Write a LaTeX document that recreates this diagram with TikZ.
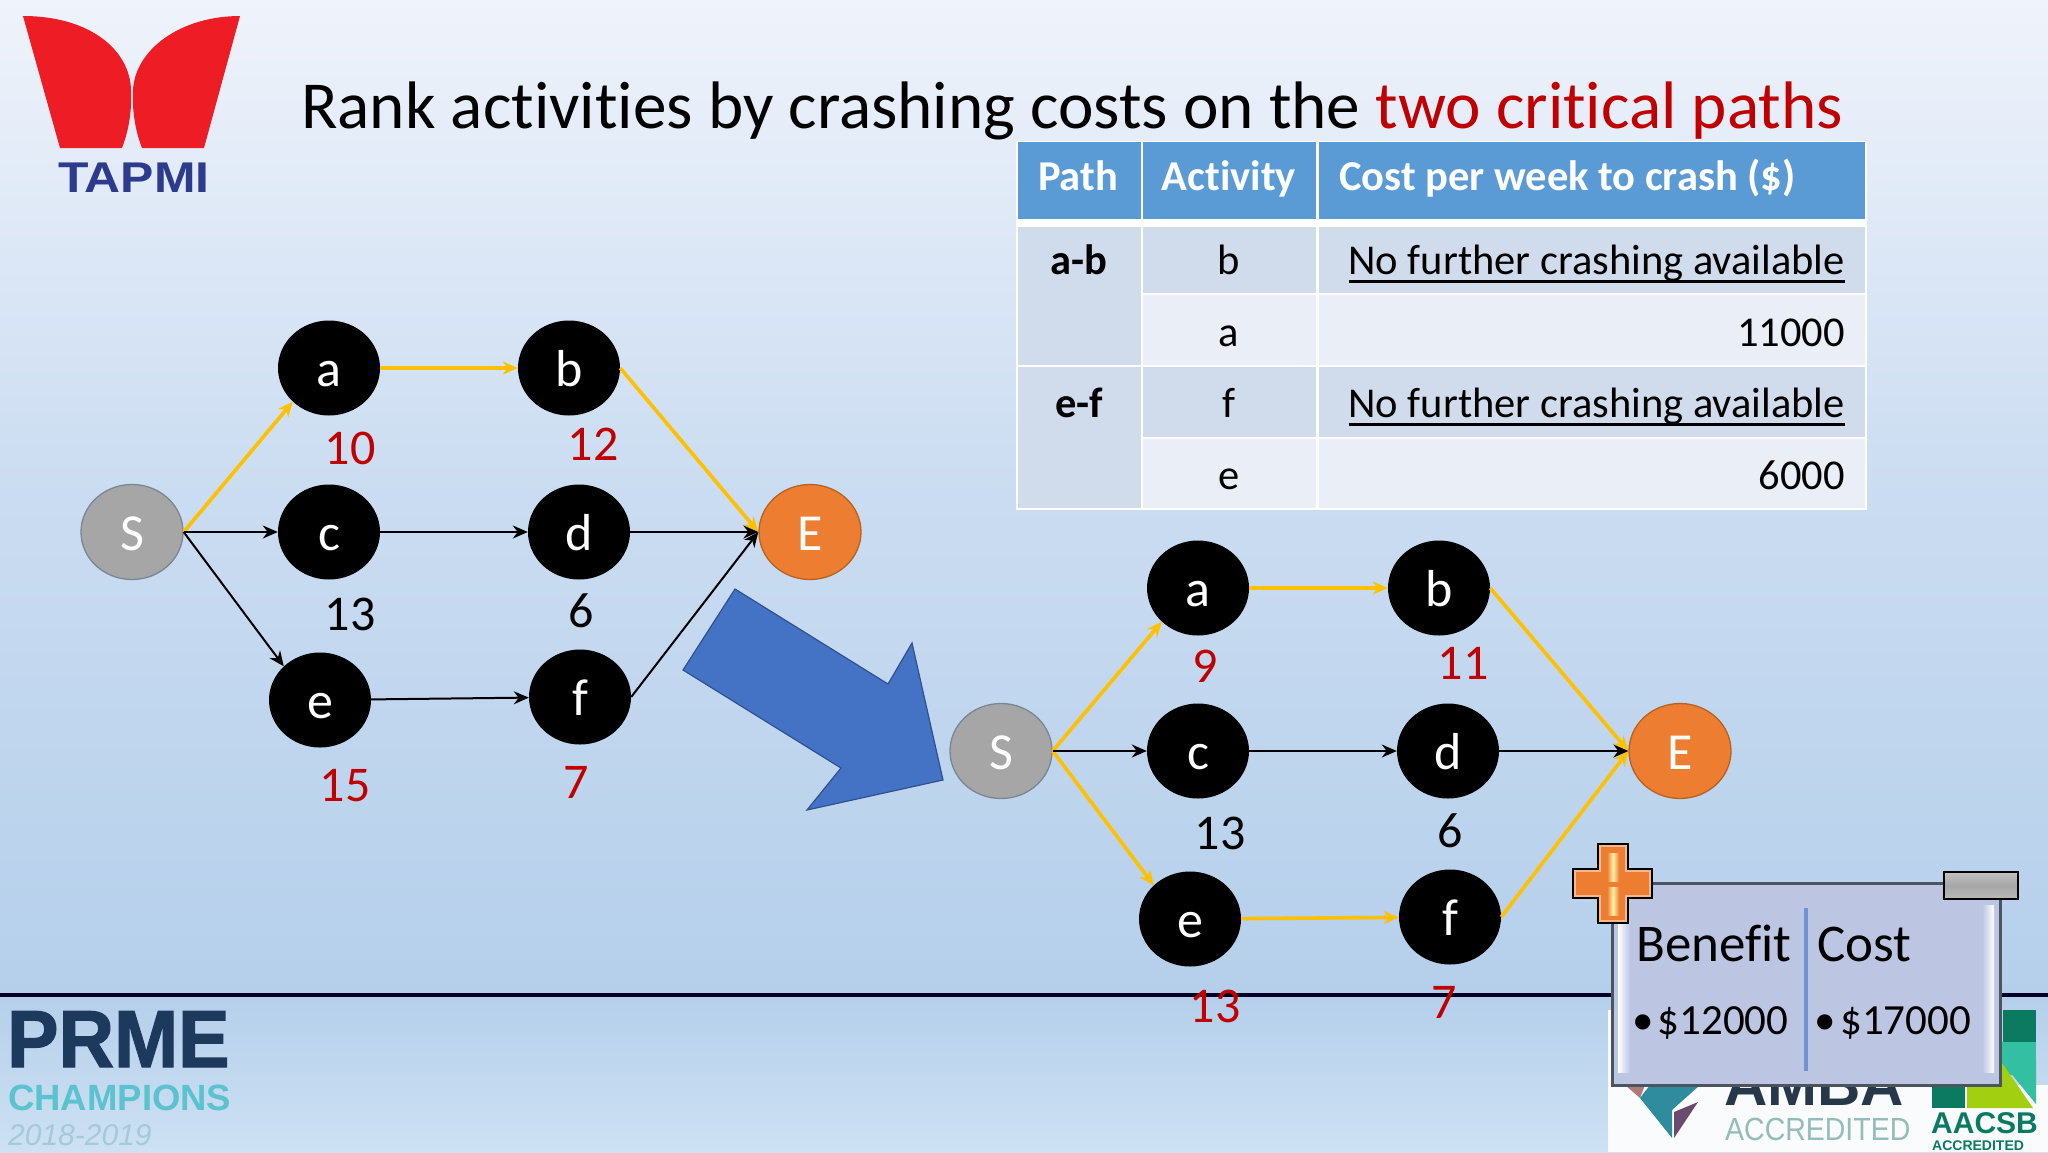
\documentclass[tikz,border=0pt]{standalone}
\usepackage{fontspec}
\setmainfont[Ligatures=CommonOff]{Carlito}
\newfontfamily\logofont{Liberation Sans}
\newfontfamily\tapmifont[FakeStretch=1.16]{Liberation Sans}
\newfontfamily\primefont[FakeStretch=0.95,FakeBold=1.5]{Liberation Sans}
\newfontfamily\ambafont[FakeStretch=0.89]{Liberation Sans}
\usetikzlibrary{shapes.geometric,arrows.meta}
\definecolor{critred}{HTML}{C00000}
\definecolor{critline}{HTML}{FFC000}
\definecolor{headblue}{HTML}{5B9BD5}
\definecolor{bandblue}{HTML}{D0DCEC}
\definecolor{bandlight}{HTML}{E9EEF7}
\definecolor{panel}{HTML}{BCC6E3}
\definecolor{arrowblue}{HTML}{4472C4}
\definecolor{arrowedge}{HTML}{2F528F}
\definecolor{bgtop}{HTML}{EFF3FB}
\definecolor{bghalf}{HTML}{CADCF1}
\definecolor{bgmid}{HTML}{B5CFEB}
\definecolor{bgbot}{HTML}{CDE1F3}
\definecolor{grayfill}{HTML}{A6A6A6}
\definecolor{grayline}{HTML}{7A8694}
\definecolor{orangefill}{HTML}{ED7D31}
\definecolor{orangeline}{HTML}{B8621F}
\definecolor{orangelight}{HTML}{F5B78C}
\definecolor{palegold}{HTML}{FFF2A8}
\definecolor{logored}{HTML}{EE1C25}
\definecolor{logoblue}{HTML}{2E3A8C}
\definecolor{primenavy}{HTML}{1D3A5C}
\definecolor{primeteal}{HTML}{5CC2CE}
\definecolor{primegray}{HTML}{A4CAD8}
\definecolor{ambadark}{HTML}{26384A}
\definecolor{ambateal}{HTML}{2F8C9E}
\definecolor{ambaplum}{HTML}{6A4A6E}
\definecolor{ambasalmon}{HTML}{B07A78}
\definecolor{ambalight}{HTML}{93BDB6}
\definecolor{aacsbdark}{HTML}{0B7A60}
\definecolor{aacsblime}{HTML}{A2CF10}
\definecolor{aacsbteal}{HTML}{32BFA2}
\definecolor{boxline}{HTML}{4A5560}
\definecolor{divider}{HTML}{6F93D0}
\newcommand{\fsz}[1]{\fontsize{#1}{#1}\selectfont}
\newcommand{\thickul}[1]{\setbox0\hbox{#1}\rlap{\rule[-8pt]{\wd0}{2.5pt}}\box0}
\tikzset{
  x=1pt,y=-1pt,
  netnode/.style={ellipse,minimum width=102,minimum height=95,inner sep=0,font=\fsz{52},text height=37,text depth=0},
  activity/.style={netnode,fill=black,text=white},
  startnode/.style={netnode,fill=grayfill,draw=grayline,line width=1.3,text=white},
  endnode/.style={netnode,fill=orangefill,draw=orangeline,line width=1.3,text=white},
  plain/.style={-{Stealth[length=15,width=13]},black,line width=2},
  critical/.style={-{Stealth[length=15,width=13]},critline,line width=3.6},
  duration/.style={font=\fsz{50},inner sep=0},
  slack/.style={duration,text=critred},
  cellhead/.style={anchor=base,text=white,font=\bfseries\fsz{42.5},inner sep=0},
  cellbody/.style={anchor=base,font=\fsz{42.5},inner sep=0},
  cellbold/.style={anchor=base,font=\bfseries\fsz{42.5},inner sep=0},
  cellright/.style={anchor=base east,font=\fsz{42.5},inner sep=0},
  boxhead/.style={anchor=base west,font=\fsz{53},inner sep=0},
  boxitem/.style={anchor=base west,font=\fsz{43},inner sep=0},
  logotext/.style={anchor=base west,inner sep=0},
}
\begin{document}
\begin{tikzpicture}
\useasboundingbox (0,0) rectangle (2048,1152);
% background
\fill[top color=bgtop,bottom color=bgmid,middle color=bghalf] (0,0) rectangle (2048,995);
\fill[top color=bgmid,bottom color=bgbot] (0,995) rectangle (2048,1152);
% rule
\draw[black!85!blue,line width=4] (0,995) -- (2048,995);
% TAPMI logo
\fill[logored] (23,16) .. controls (90,16) and (130,50) .. (131,90) .. controls (132,110) and (129,130) .. (122,148) -- (60,148) -- cycle;
\fill[logored] (240,16) .. controls (180,16) and (135,50) .. (133,90) .. controls (132,110) and (135,130) .. (142,148) -- (204,148) -- cycle;
\node[logotext,font=\tapmifont\bfseries\fsz{43},text=logoblue] (tapmi) at (58,192) {TAPMI};
% PRME logo
\node[logotext,font=\primefont\bfseries\fsz{81},text=primenavy] (prme) at (7,1067) {PRME};
\node[logotext,font=\logofont\bfseries\fsz{36.5},text=primeteal] (champ) at (8,1110) {CHAMPIONS};
\node[logotext,font=\logofont\itshape\fsz{30},text=primegray] (years) at (8,1145) {2018-2019};
% accreditation logos
\fill[white!92!bgmid] (1608,1010) rectangle (1925,1152);
\fill[white!92!bgmid] (1925,1085) rectangle (2048,1152);
\fill[ambasalmon] (1625,1085) -- (1645,1085) -- (1640,1098) -- cycle;
\fill[ambateal] (1640,1098) -- (1650,1085) -- (1700,1085) -- (1672,1110) -- (1672,1138) -- cycle;
\fill[ambaplum] (1674,1112) -- (1698,1102) -- (1674,1138) -- cycle;
\node[logotext,font=\logofont\bfseries\fsz{60},text=ambadark] (amba) at (1724,1105) {AMBA};
\node[logotext,font=\ambafont\fsz{32},text=ambalight] (ambaacc) at (1725,1140) {ACCREDITED};
\fill[aacsbdark] (2003,1010) rectangle (2036,1042);
\fill[aacsbteal] (2000,1042) rectangle (2036,1075);
\fill[aacsbdark] (1932,1060) rectangle (1965,1108);
\fill[aacsblime] (1967,1060) -- (2000,1060) -- (2033,1108) -- (1967,1108) -- cycle;
\fill[aacsbteal] (2000,1060) -- (2036,1060) -- (2036,1104) -- cycle;
\node[logotext,font=\logofont\bfseries\fsz{30},text=aacsbdark] (aacsb) at (1931,1133) {AACSB};
\node[logotext,font=\logofont\bfseries\fsz{14},text=aacsbdark] (aacsbacc) at (1932,1150) {ACCREDITED};
% title
\node[anchor=base west,inner sep=0,font=\fsz{67.2}] (title) at (301,128) {Rank activities by crashing costs on the \textcolor{critred}{two critical paths}};
% table
\fill[white] (1016,141) rectangle (1867,510);
\fill[headblue] (1018,142) rectangle (1141,219);
\fill[headblue] (1143,142) rectangle (1316,219);
\fill[headblue] (1319,142) rectangle (1865,219);
\fill[bandblue] (1018,227) rectangle (1141,365);
\fill[bandblue] (1143,227) rectangle (1316,293);
\fill[bandblue] (1319,227) rectangle (1865,293);
\fill[bandlight] (1143,295) rectangle (1316,365);
\fill[bandlight] (1319,295) rectangle (1865,365);
\fill[bandblue] (1018,367) rectangle (1141,508);
\fill[bandblue] (1143,367) rectangle (1316,437);
\fill[bandblue] (1319,367) rectangle (1865,437);
\fill[bandlight] (1143,439) rectangle (1316,508);
\fill[bandlight] (1319,439) rectangle (1865,508);
\node[cellhead] (t1) at (1078,190.5) {Path};
\node[cellhead] (t2) at (1229,190.5) {Activity};
\node[cellhead,anchor=base west] (t3) at (1339,190.5) {Cost per week to crash (\$)};
\node[cellbold] (p1) at (1079,274.5) {a-b};
\node[cellbody] (a1) at (1229,274.5) {b};
\node[cellright] (c1) at (1845,274.5) {\thickul{No further crashing available}};
\node[cellbody] (a2) at (1229,346) {a};
\node[cellright] (c2) at (1845,346) {11000};
\node[cellbold] (p2) at (1079,417.5) {e-f};
\node[cellbody] (a3) at (1229,417.5) {f};
\node[cellright] (c3) at (1845,417.5) {\thickul{No further crashing available}};
\node[cellbody] (a4) at (1229,489) {e};
\node[cellright] (c4) at (1845,489) {6000};
% big arrow
\filldraw[fill=arrowblue,draw=arrowedge,line width=1.2] (943,780) -- (912,643) -- (888,684) -- (735,589) -- (683,670) -- (841,768) -- (807,810) -- cycle;
% left network
\node[startnode] (lS) at (132,532) {S};
\node[activity] (la) at (329,368) {a};
\node[activity] (lb) at (569,368) {b};
\node[activity] (lc) at (329,532) {c};
\node[activity] (ld) at (579,532) {d};
\node[activity] (le) at (320,700) {e};
\node[activity] (lf) at (580,697) {f};
\node[endnode] (lE) at (810,532) {E};
\draw[critical] (lS.east) -- (la.south west);
\draw[critical] (la) -- (lb);
\draw[critical] (lb.east) -- (lE.west);
\draw[plain] (lS.east) -- (lc);
\draw[plain] (lc) -- (ld);
\draw[plain] (ld) -- (lE);
\draw[plain] (lS.east) -- (le.north west);
\draw[plain] (le) -- (lf);
\draw[plain] (lf.east) -- (lE.west);
\node[slack] at (350,448) {10};
\node[slack] at (593,444) {12};
\node[duration] at (350,614) {13};
\node[duration] at (581,611) {6};
\node[slack] at (345,786) {15};
\node[slack] at (576,782) {7};
% right network
\node[startnode] (rS) at (1001,751) {S};
\node[activity] (ra) at (1198,588) {a};
\node[activity] (rb) at (1439,588) {b};
\node[activity] (rc) at (1198,751) {c};
\node[activity] (rd) at (1448,751) {d};
\node[activity] (re) at (1190,919) {e};
\node[activity] (rf) at (1450,917) {f};
\node[endnode] (rE) at (1680,751) {E};
\draw[critical] (rS.east) -- (ra.south west);
\draw[critical] (ra) -- (rb);
\draw[critical] (rb.east) -- (rE.west);
\draw[critical] (rS.east) -- (re.north west);
\draw[critical] (re) -- (rf);
\draw[critical] (rf.east) -- (rE.west);
\draw[plain] (rS.east) -- (rc);
\draw[plain] (rc) -- (rd);
\draw[plain] (rd) -- (rE);
\node[slack] at (1205,666) {9};
\node[slack] at (1463,663) {11};
\node[duration] at (1220,833) {13};
\node[duration] at (1450,831) {6};
\node[slack] at (1215,1006) {13};
\node[slack] at (1444,1002) {7};
% benefit / cost panel
\fill[panel] (1612,883) rectangle (2000,1085);
\fill[left color=white,right color=panel] (1618,905) rectangle (1630,1072);
\fill[left color=panel,right color=white] (1982,905) rectangle (1994,1072);
\draw[boxline,line width=3] (1612,883) rectangle (2000,1085);
\draw[divider,line width=4.5] (1806,908) -- (1806,1071);
\node[boxhead] (ben) at (1636,961) {Benefit};
\node[boxhead] (cos) at (1817,961) {Cost};
\node[boxitem] (bv) at (1657.5,1034) {\llap{•\kern 4pt}\$12000};
\node[boxitem] (cv) at (1840,1034) {\llap{•\kern 4pt}\$17000};
% plus icon
\filldraw[fill=orangefill,draw=black,line width=2] (1598,844) -- (1628,844) -- (1628,869) -- (1652,869) -- (1652,898) -- (1628,898) -- (1628,923) -- (1598,923) -- (1598,898) -- (1573,898) -- (1573,869) -- (1598,869) -- cycle;
\draw[orangelight,line width=2] (1600,846) -- (1626,846) -- (1626,871) -- (1650,871) -- (1650,896) -- (1626,896) -- (1626,921) -- (1600,921) -- (1600,896) -- (1575,896) -- (1575,871) -- (1600,871) -- cycle;
\fill[left color=orangefill,right color=orangefill,middle color=palegold] (1607,853) rectangle (1619,881);
\fill[left color=orangefill,right color=orangefill,middle color=palegold] (1607,887) rectangle (1619,915);
% minus icon
\filldraw[top color=grayfill!70!white,bottom color=grayfill!80!white,middle color=grayfill,draw=black,line width=2] (1944,872) rectangle (2018,899);
\end{tikzpicture}
\end{document}
